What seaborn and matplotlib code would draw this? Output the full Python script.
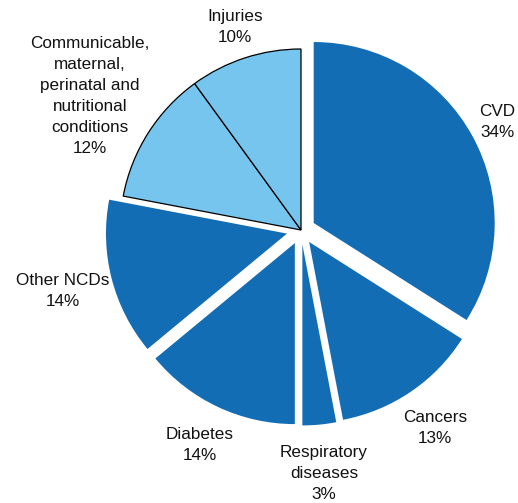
import numpy as np
import matplotlib
matplotlib.use("Agg")
import matplotlib.pyplot as plt
import seaborn as sns

categories = ["CVD", "Cancers", "Respiratory\ndiseases", "Diabetes", "Other NCDs",
              "Communicable,\nmaternal,\nperinatal and\nnutritional\nconditions", "Injuries"]
values = [34, 13, 3, 14, 14, 12, 10]
groups = ["ncd", "ncd", "ncd", "ncd", "ncd", "other", "other"]

sns.set_theme(style="white")
plt.rcParams['font.family'] = ['Liberation Sans', 'DejaVu Sans']

dark = "#136db5"
light = "#76c5ee"
palette = sns.color_palette([dark, light])
colors = [palette[0] if g == "ncd" else palette[1] for g in groups]
explode = [0.08 if g == "ncd" else 0.0 for g in groups]

W, H = 518, 503
fig = plt.figure(figsize=(W / 100, H / 100), dpi=100)
ax = fig.add_axes([0, 0, 1, 1])

cx, cy, R = 301.0, 230.0, 181.0  # pixel centre & radius

wedges, _ = ax.pie(values, colors=colors, explode=explode, startangle=90,
                   counterclock=False, radius=1.0,
                   wedgeprops=dict(linewidth=0))

for w, g in zip(wedges, groups):
    if g == "other":
        w.set_edgecolor("black")
        w.set_linewidth(0.9)

label_r = [1.24, 1.32, 1.35, 1.31, 1.36, 1.38, 1.18]
for w, cat, v, r in zip(wedges, categories, values, label_r):
    th = np.deg2rad((w.theta1 + w.theta2) / 2)
    ax.text(r * np.cos(th), r * np.sin(th), f"{cat}\n{v}%", ha="center", va="center",
            fontsize=12.3, linespacing=1.5, color="#111111")

ax.set_xlim(-cx / R, (W - cx) / R)
ax.set_ylim(-(H - cy) / R, cy / R)
ax.set_aspect("equal", adjustable="datalim")
ax.axis("off")

fig.savefig("out.png", dpi=100, facecolor="white")
